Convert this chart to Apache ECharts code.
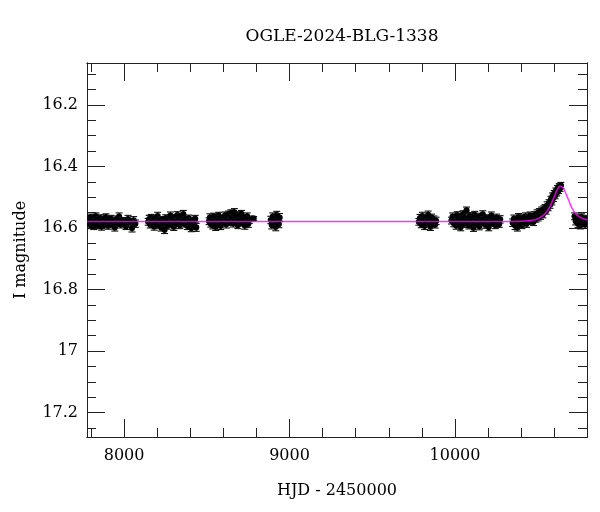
<!DOCTYPE html>
<html>
<head>
<meta charset="utf-8">
<title>OGLE-2024-BLG-1338</title>
<script src="https://cdn.jsdelivr.net/npm/echarts@6/dist/echarts.min.js"></script>
<style>
  html, body { margin: 0; padding: 0; background: #fff; }
  #chart { width: 600px; height: 512px; }
</style>
</head>
<body>
<div id="chart"></div>
<script>
// photometry per season: [HJD - 2450000, I mag, error]
const s2017 = [[7781,16.578,0.011],[7786,16.571,0.010],[7790,16.585,0.012],[7795,16.566,0.011],[7799,16.590,0.012],[7803,16.575,0.010],[7808,16.582,0.011],[7812,16.569,0.012],[7817,16.593,0.012],[7821,16.577,0.010],[7826,16.584,0.011],[7830,16.562,0.011],[7836,16.580,0.012],[7841,16.591,0.011],[7847,16.573,0.010],[7852,16.586,0.012],[7858,16.568,0.011],[7864,16.595,0.012],[7870,16.579,0.010],[7877,16.574,0.011],[7884,16.588,0.012],[7890,16.565,0.011],[7897,16.581,0.010],[7905,16.592,0.012],[7912,16.576,0.011],[7920,16.570,0.011],[7928,16.587,0.012],[7936,16.580,0.010],[7944,16.598,0.012],[7952,16.572,0.011],[7961,16.584,0.011],[7970,16.563,0.012],[7980,16.589,0.011],[7990,16.576,0.010],[8001,16.583,0.012],[8012,16.594,0.011],[8024,16.571,0.012],[8036,16.580,0.011],[8048,16.600,0.013],[8058,16.575,0.012],[8068,16.586,0.012]]
const s2018 = [[8146,16.580,0.011],[8152,16.571,0.012],[8158,16.589,0.011],[8164,16.566,0.010],[8170,16.584,0.012],[8176,16.576,0.011],[8182,16.595,0.012],[8189,16.570,0.011],[8196,16.582,0.010],[8203,16.561,0.012],[8210,16.590,0.011],[8217,16.577,0.011],[8224,16.598,0.012],[8231,16.573,0.010],[8238,16.585,0.012],[8245,16.606,0.012],[8252,16.568,0.011],[8259,16.581,0.010],[8266,16.592,0.012],[8273,16.574,0.011],[8280,16.560,0.012],[8287,16.587,0.011],[8294,16.578,0.010],[8301,16.596,0.012],[8308,16.567,0.011],[8315,16.583,0.012],[8322,16.558,0.011],[8329,16.575,0.010],[8336,16.590,0.012],[8343,16.564,0.011],[8350,16.580,0.011],[8358,16.555,0.012],[8366,16.586,0.011],[8374,16.572,0.010],[8382,16.593,0.012],[8390,16.569,0.011],[8398,16.581,0.012],[8406,16.600,0.012],[8414,16.576,0.011],[8422,16.588,0.012],[8430,16.570,0.011],[8436,16.598,0.013]]
const s2019 = [[8514,16.578,0.011],[8519,16.566,0.012],[8524,16.586,0.011],[8530,16.572,0.010],[8536,16.591,0.012],[8542,16.563,0.011],[8548,16.580,0.011],[8554,16.596,0.012],[8560,16.570,0.010],[8566,16.584,0.012],[8572,16.560,0.011],[8578,16.577,0.011],[8584,16.593,0.012],[8590,16.568,0.010],[8597,16.582,0.011],[8604,16.575,0.012],[8611,16.559,0.011],[8618,16.588,0.012],[8625,16.571,0.010],[8632,16.556,0.011],[8639,16.580,0.012],[8646,16.552,0.011],[8653,16.567,0.010],[8660,16.585,0.012],[8667,16.549,0.012],[8674,16.574,0.011],[8681,16.558,0.011],[8688,16.590,0.012],[8695,16.563,0.010],[8702,16.578,0.012],[8709,16.554,0.011],[8716,16.583,0.011],[8723,16.569,0.012],[8730,16.592,0.012],[8737,16.575,0.011],[8744,16.562,0.011],[8751,16.586,0.012],[8757,16.573,0.012],[8783,16.569,0.006]]
const s2020 = [[8887,16.574,0.012],[8893,16.590,0.013],[8899,16.563,0.012],[8905,16.582,0.014],[8911,16.570,0.012],[8917,16.596,0.013],[8923,16.558,0.012],[8929,16.578,0.013],[8935,16.587,0.012],[8940,16.566,0.013]]
const s2022 = [[9782,16.580,0.011],[9789,16.568,0.012],[9796,16.588,0.011],[9803,16.561,0.012],[9810,16.576,0.010],[9817,16.593,0.012],[9824,16.571,0.011],[9831,16.584,0.011],[9838,16.557,0.012],[9845,16.579,0.010],[9852,16.596,0.012],[9859,16.566,0.011],[9866,16.582,0.011],[9873,16.573,0.012],[9880,16.589,0.011],[9886,16.577,0.012]]
const s2023 = [[9979,16.576,0.011],[9986,16.563,0.012],[9993,16.585,0.011],[10000,16.570,0.010],[10007,16.592,0.012],[10014,16.558,0.011],[10021,16.580,0.011],[10028,16.566,0.012],[10035,16.597,0.012],[10042,16.574,0.010],[10049,16.555,0.011],[10056,16.586,0.012],[10063,16.569,0.011],[10070,16.543,0.011],[10077,16.578,0.010],[10084,16.591,0.012],[10091,16.561,0.011],[10098,16.582,0.011],[10105,16.572,0.012],[10112,16.599,0.012],[10119,16.557,0.011],[10126,16.585,0.010],[10133,16.567,0.012],[10140,16.578,0.011],[10147,16.594,0.012],[10154,16.563,0.011],[10161,16.581,0.010],[10168,16.556,0.012],[10175,16.574,0.011],[10182,16.589,0.012],[10189,16.568,0.011],[10196,16.580,0.010],[10204,16.597,0.012],[10212,16.571,0.011],[10220,16.560,0.012],[10228,16.584,0.011],[10236,16.576,0.010],[10244,16.590,0.012],[10252,16.566,0.011],[10260,16.579,0.012],[10267,16.587,0.011],[10273,16.572,0.012]]
const s2024 = [[10349,16.583,0.012],[10356,16.570,0.012],[10363,16.592,0.013],[10370,16.576,0.011],[10377,16.598,0.012],[10384,16.565,0.012],[10391,16.585,0.011],[10398,16.573,0.012],[10405,16.590,0.012],[10412,16.568,0.011],[10419,16.580,0.012],[10426,16.562,0.011],[10433,16.586,0.012],[10440,16.571,0.011],[10447,16.578,0.010],[10454,16.560,0.012],[10461,16.575,0.011],[10468,16.566,0.011],[10475,16.580,0.012],[10482,16.558,0.011],[10489,16.570,0.011],[10496,16.553,0.012],[10503,16.566,0.011],[10510,16.548,0.011],[10517,16.560,0.012],[10524,16.543,0.011],[10531,16.556,0.011],[10538,16.540,0.012],[10545,16.535,0.011],[10551,16.544,0.011],[10557,16.527,0.012],[10563,16.533,0.011],[10569,16.519,0.011],[10575,16.524,0.012],[10580,16.508,0.011],[10585,16.514,0.011],[10590,16.497,0.011],[10595,16.502,0.012],[10600,16.489,0.011],[10605,16.494,0.011],[10610,16.481,0.011],[10615,16.485,0.011],[10620,16.473,0.011],[10625,16.477,0.011],[10630,16.466,0.010],[10635,16.470,0.011],[10640,16.462,0.010]]
const s2025 = [[10723,16.562,0.011],[10730,16.578,0.012],[10737,16.568,0.011],[10744,16.586,0.012],[10751,16.571,0.011],[10758,16.591,0.012],[10765,16.565,0.011],[10772,16.580,0.012],[10779,16.574,0.011],[10786,16.589,0.012],[10793,16.570,0.011]]

// model curve
const modelHjd = [7776, 10300, 10400, 10450, 10476, 10500, 10520, 10536, 10550, 10560, 10572, 10582, 10590, 10602, 10612, 10622, 10632, 10639, 10646, 10655, 10663, 10673, 10683, 10693, 10703, 10718, 10733, 10753, 10773, 10800]
const modelMag = [16.579, 16.579, 16.578, 16.576, 16.574, 16.570, 16.564, 16.558, 16.550, 16.543, 16.532, 16.521, 16.511, 16.496, 16.482, 16.471, 16.465, 16.464, 16.466, 16.471, 16.479, 16.491, 16.504, 16.518, 16.531, 16.545, 16.556, 16.564, 16.569, 16.574]

// ticks
const xMajor = [8000, 9000, 10000]
const xMinor = [7800, 8200, 8400, 8600, 8800, 9200, 9400, 9600, 9800, 10200, 10400, 10600]
const yMajor = [16.2, 16.4, 16.6, 16.8, 17, 17.2]
const yMinor = [16.1, 16.15, 16.25, 16.3, 16.35, 16.45, 16.5, 16.55, 16.65, 16.7, 16.75, 16.85, 16.9, 16.95, 17.05, 17.1, 17.15, 17.25]

const xMin = 7776, xMax = 10798
const yMin = 16.064, yMax = 17.279

const chart = echarts.init(document.getElementById('chart'))

const font = 'DejaVu Serif'
const ink = '#222'

const points = [].concat(s2017, s2018, s2019, s2020, s2022, s2023, s2024, s2025)
const model = modelHjd.map((h, i) => [h, modelMag[i]])

function makeX(pos, ticks, len, labels) {
  return {
    type: 'value', min: xMin, max: xMax, position: pos,
    axisLine: { show: true, onZero: false, lineStyle: { color: ink, width: 1 } },
    axisTick: { show: true, inside: true, length: len, customValues: ticks, lineStyle: { color: ink, width: 1 } },
    axisLabel: labels ? {
      show: true, customValues: ticks, margin: 11, color: '#000', fontFamily: font, fontSize: 16,
      formatter: v => String(v)
    } : { show: false },
    splitLine: { show: false }
  }
}
function makeY(pos, ticks, len, labels) {
  return {
    type: 'value', min: yMin, max: yMax, inverse: true, position: pos,
    axisLine: { show: true, onZero: false, lineStyle: { color: ink, width: 1 } },
    axisTick: { show: true, inside: true, length: len, customValues: ticks, lineStyle: { color: ink, width: 1 } },
    axisLabel: labels ? {
      show: true, customValues: ticks, margin: 9, color: '#000', fontFamily: font, fontSize: 16,
      formatter: v => String(+v.toFixed(2))
    } : { show: false },
    splitLine: { show: false }
  }
}

const xMain = makeX('bottom', xMajor, 18, true)
xMain.name = 'HJD - 2450000'
xMain.nameLocation = 'middle'
xMain.nameGap = 46
xMain.nameTextStyle = { color: '#000', fontFamily: font, fontSize: 16 }

const yMain = makeY('left', yMajor, 18, true)
yMain.name = 'I magnitude'
yMain.nameLocation = 'middle'
yMain.nameGap = 58
yMain.nameTextStyle = { color: '#000', fontFamily: font, fontSize: 16 }

const option = {
  animation: false,
  backgroundColor: '#fff',
  title: {
    text: 'OGLE-2024-BLG-1338',
    left: 337, top: 23, textAlign: 'center',
    textStyle: { color: '#000', fontFamily: font, fontSize: 17, fontWeight: 'normal' }
  },
  grid: { left: 87, right: 13, top: 63, bottom: 75, containLabel: false },
  xAxis: [xMain, makeX('bottom', xMinor, 9, false), makeX('top', xMajor, 18, false), makeX('top', xMinor, 9, false)],
  yAxis: [yMain, makeY('left', yMinor, 9, false), makeY('right', yMajor, 18, false), makeY('right', yMinor, 9, false)],
  series: [
    {
      type: 'custom',
      xAxisIndex: 0, yAxisIndex: 0,
      clip: true,
      z: 2,
      data: points,
      renderItem: function (params, api) {
        const h = api.value(0), m = api.value(1), e = api.value(2)
        const top = api.coord([h, m - e])
        const bot = api.coord([h, m + e])
        const c = api.coord([h, m])
        const cap = 3.5
        const st = { stroke: '#111', lineWidth: 1.1 }
        return {
          type: 'group',
          children: [
            { type: 'line', shape: { x1: c[0], y1: top[1], x2: c[0], y2: bot[1] }, style: st },
            { type: 'line', shape: { x1: c[0] - cap, y1: top[1], x2: c[0] + cap, y2: top[1] }, style: st },
            { type: 'line', shape: { x1: c[0] - cap, y1: bot[1], x2: c[0] + cap, y2: bot[1] }, style: st },
            { type: 'circle', shape: { cx: c[0], cy: c[1], r: 3.1 }, style: { fill: '#000' } }
          ]
        }
      }
    },
    {
      type: 'line',
      xAxisIndex: 0, yAxisIndex: 0,
      data: model,
      showSymbol: false,
      smooth: 0.2,
      clip: true,
      z: 3,
      lineStyle: { color: '#ff00ff', width: 1.5, opacity: 0.8 }
    }
  ]
}

chart.setOption(option)
</script>
</body>
</html>
